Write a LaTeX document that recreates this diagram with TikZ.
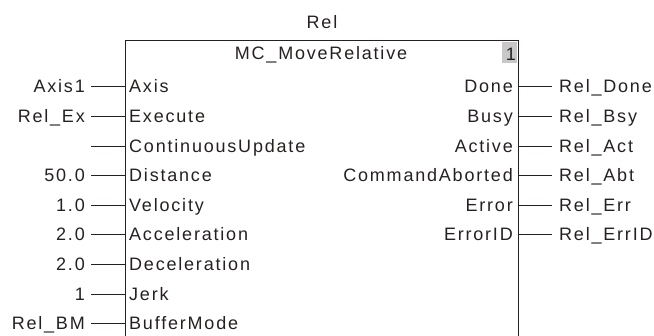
\documentclass[tikz,border=0pt]{standalone}
\usepackage{fontspec}
\setmainfont{Liberation Sans}[LetterSpace=10]
\definecolor{ink}{RGB}{38,33,32}
\definecolor{idgray}{RGB}{200,200,200}
\tikzset{
    pin/.style={font=\fontsize{18}{21}\selectfont, text=ink, inner sep=0pt},
    wire/.style={draw=ink, line width=1pt}
}
\begin{document}
\begin{tikzpicture}[x=1pt, y=-1pt]
        \useasboundingbox (0,0) rectangle (654,336);
        % instance name and block
        \node[pin] (inst) at (322,22) {Rel};
        \draw[wire] (125,340) -- (125,41) -- (518,41) -- (518,340);
        \node[pin] (fbname) at (321,55) {MC\_MoveRelative};
        \fill[idgray] (502,42.5) rectangle (517,63);
        \node[pin, anchor=base east] (fbid) at (516,61) {1};

        % inputs
        \foreach \i/\val/\name in {0/Axis1/Axis, 1/Rel\_Ex/Execute, 2//ContinuousUpdate,
                3/50.0/Distance, 4/1.0/Velocity, 5/2.0/Acceleration, 6/2.0/Deceleration,
                7/1/Jerk, 8/Rel\_BM/BufferMode} {
            \coordinate (src\i) at (91, 87+29.6*\i);
            \coordinate (inpin\i) at (125, 87+29.6*\i);
            \node[pin, anchor=base east] (val\i) at (85, 93+29.6*\i) {\val};
            \node[pin, anchor=base west] (in\i) at (129, 93+29.6*\i) {\name};
            \draw[wire] (src\i) -- (inpin\i);
        }

        % outputs
        \foreach \i/\name/\var in {0/Done/Rel\_Done, 1/Busy/Rel\_Bsy, 2/Active/Rel\_Act,
                3/CommandAborted/Rel\_Abt, 4/Error/Rel\_Err, 5/ErrorID/Rel\_ErrID} {
            \coordinate (outpin\i) at (518, 87+29.6*\i);
            \coordinate (dst\i) at (552, 87+29.6*\i);
            \node[pin, anchor=base east] (out\i) at (513, 93+29.6*\i) {\name};
            \node[pin, anchor=base west] (var\i) at (559, 93+29.6*\i) {\var};
            \draw[wire] (outpin\i) -- (dst\i);
        }
    \end{tikzpicture}
\end{document}
